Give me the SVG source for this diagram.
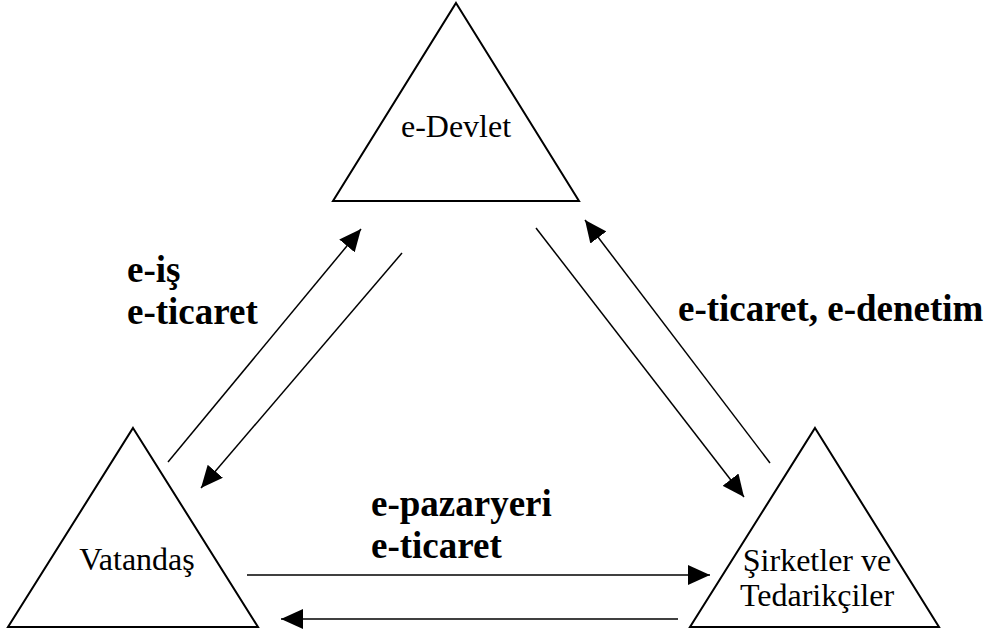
<svg xmlns="http://www.w3.org/2000/svg" width="988" height="632" viewBox="0 0 988 632">
<style>
.tri{fill:none;stroke:#000;stroke-width:2;stroke-linejoin:miter}
.node{font-family:"Liberation Serif","Times New Roman",serif;font-size:32px;fill:#000;text-anchor:middle}
.lbl{font-family:"Liberation Serif","Times New Roman",serif;font-size:37px;font-weight:bold;fill:#000}
.conn{stroke:#000;stroke-width:1.5;fill:none;marker-end:url(#arr)}
.plain{stroke:#000;stroke-width:1.5;fill:none}
</style>
<defs>
<marker id="arr" viewBox="0 0 22 20" refX="22" refY="10" markerWidth="22" markerHeight="20" markerUnits="userSpaceOnUse" orient="auto">
<path d="M0,0 L22,10 L0,20 z" fill="#000"/>
</marker>
</defs>
<rect width="988" height="632" fill="#fff"/>
<g id="node-edevlet">
<polygon class="tri" points="456,3 579,201 333,201"/>
<text class="node" x="456" y="137">e-Devlet</text>
</g>
<g id="node-vatandas">
<polygon class="tri" points="133,428 258,627 8,627"/>
<text class="node" x="137" y="570">Vatandaş</text>
</g>
<g id="node-sirketler">
<polygon class="tri" points="815,428 939,627 690,627"/>
<text class="node" x="817" y="571">Şirketler ve</text>
<text class="node" x="817" y="606">Tedarikçiler</text>
</g>
<g id="connectors">
<line class="conn" x1="168" y1="462" x2="361" y2="229"/>
<line class="conn" x1="402" y1="253" x2="201" y2="488"/>
<line class="conn" x1="536" y1="228" x2="744" y2="497"/>
<line class="conn" x1="770" y1="463" x2="585" y2="220"/>
<line class="conn" x1="247" y1="575" x2="710" y2="575"/>
<line class="conn" x1="678" y1="619" x2="281" y2="619"/>
</g>
<g id="labels">
<text class="lbl" x="127" y="282">e-iş</text>
<text class="lbl" x="127" y="324">e-ticaret</text>
<text class="lbl" x="678" y="321">e-ticaret, e-denetim</text>
<text class="lbl" x="371" y="516">e-pazaryeri</text>
<text class="lbl" x="371" y="558">e-ticaret</text>
</g>
</svg>
